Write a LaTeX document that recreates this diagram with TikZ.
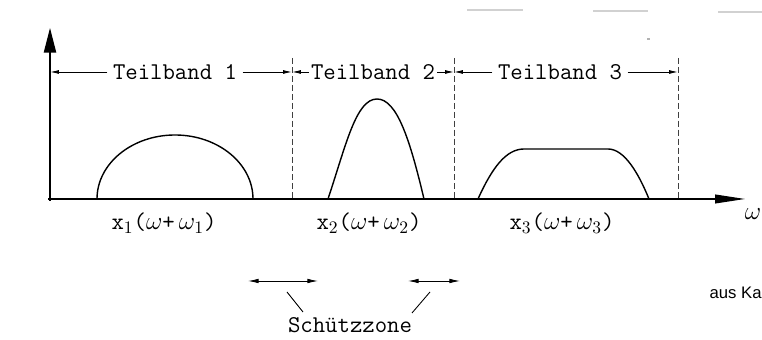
\documentclass[tikz,border=0pt]{standalone}
\usepackage{fontspec}
\newfontfamily\credfont{Liberation Sans}
\usetikzlibrary{arrows.meta,positioning}

\begin{document}
\begin{tikzpicture}[x=0.02cm,y=0.02cm,
  axis/.style={line width=0.7pt},
  guide/.style={line width=0.5pt,dash pattern=on 3.4pt off 1.7pt,black!75},
  band/.style={font=\fontsize{13.7}{16}\ttfamily,inner sep=3pt},
  span/.style={-{Latex[length=5pt,width=2.2pt]},line width=0.5pt},
  zone/.style={{Latex[length=6pt,width=2.6pt]}-{Latex[length=6pt,width=2.6pt]},line width=0.5pt},
  curve/.style={line width=0.8pt}]
\useasboundingbox (0,0) rectangle (762,340);
% axes
\coordinate (o) at (50,141);
\coordinate (ytop) at (50,312);
\coordinate (xend) at (745,141);
\draw[axis,-{Triangle[length=14pt,width=7pt]}] (50,139) -- (ytop);
\draw[axis,-{Triangle[length=17pt,width=5pt]}] (48,141) -- (xend);
\node[band,anchor=north] (om) at (753,137) {$\omega$};
% band limits
\coordinate (d1) at (292,282);
\coordinate (d2) at (454,282);
\coordinate (d3) at (678,282);
\draw[guide] (d1) -- (d1 |- o);
\draw[guide] (d2) -- (d2 |- o);
\draw[guide] (d3) -- (d3 |- o);
\coordinate (b0) at (50,268);
\coordinate (b1) at (292,268);
\coordinate (b2) at (454,268);
\coordinate (b3) at (678,268);
\node[band] (t1) at (175,268) {Teilband 1};
\node[band,inner sep=1pt] (t2) at (373,268) {Teilband 2};
\node[band] (t3) at (560,268) {Teilband 3};
\draw[span] (t1) -- (b0);
\draw[span] (t1) -- (b1);
\draw[span] (t2) -- (b1);
\draw[span] (t2) -- (b2);
\draw[span] (t3) -- (b2);
\draw[span] (t3) -- (b3);
% spectra
\draw[curve] (97,141) arc[start angle=180,end angle=0,x radius=78,y radius=64];
\draw[curve] (328,141) .. controls (346,195) and (356,241) .. (377,241)
  .. controls (397,241) and (410,200) .. (424,141);
\draw[curve] (478,141) .. controls (492,172) and (506,191) .. (524,191) -- (608,191)
  .. controls (624,191) and (638,168) .. (649,141);
\node[band] (x1) at (164,117) {x$_1$($\omega$+$\,\omega_1$)};
\node[band] (x2) at (369,117) {x$_2$($\omega$+$\,\omega_2$)};
\node[band] (x3) at (562,117) {x$_3$($\omega$+$\,\omega_3$)};
% guard zones
\node[band] (sz) at (350,15) {Schützzone};
\coordinate (g1a) at (248,59);
\coordinate (g1b) at (318,59);
\coordinate (g2a) at (408,59);
\coordinate (g2b) at (460,59);
\draw[zone] (g1a) -- (g1b);
\draw[zone] (g2a) -- (g2b);
\coordinate (p1) at (287,48);
\coordinate (p2) at (430,48);
\draw[line width=0.5pt] (p1) -- (303,28);
\draw[line width=0.5pt] (p2) -- (412,27);
\node[font=\credfont\fontsize{9.5}{11}\selectfont,anchor=east,inner sep=0pt] (src) at (762,47) {aus Ka};
% scan marks
\draw[black!18,line width=0.8pt] (467,330) -- (523,330);
\draw[black!18,line width=0.8pt] (593,329) -- (648,329);
\draw[black!18,line width=0.8pt] (718,328) -- (762,328);
\fill[black!30] (647,300) rectangle (650,302);
\end{tikzpicture}
\end{document}
